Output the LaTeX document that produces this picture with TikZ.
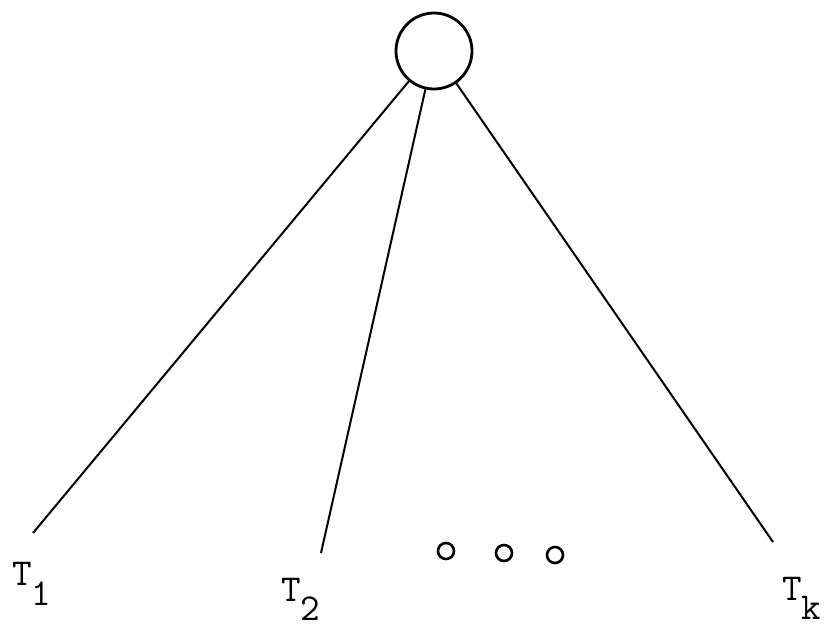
\documentclass[tikz,border=0pt]{standalone}
\usepackage{fontspec}
\setmonofont{Latin Modern Mono}
\tikzset{lblfont/.style={font=\ttfamily\fontsize{38}{42}\selectfont}}
\newcommand{\lowsub}[2]{\raisebox{-#1}[\height][0pt]{#2}}
\begin{document}
\begin{tikzpicture}[x=1pt,y=-1pt,
  edge/.style={line width=2pt},
  rootnode/.style={circle,draw,line width=2.8pt,minimum size=76pt,inner sep=0pt},
  dotnode/.style={circle,draw,line width=2.6pt,minimum size=16pt,inner sep=0pt},
  lbl/.style={anchor=base west,inner sep=0pt,lblfont}]
\useasboundingbox (0,0) rectangle (825,625);
\node[rootnode] (root) at (434,51) {};
\coordinate (e1) at (33,533);
\coordinate (e2) at (321,553);
\coordinate (e3) at (773,542);
\draw[edge] (root) -- (e1);
\draw[edge] (root) -- (e2);
\draw[edge] (root) -- (e3);
\node[lbl] (t1) at (12,585) {T\lowsub{20pt}{1}};
\node[lbl] (t2) at (281,601) {T\lowsub{19pt}{2}};
\node[lbl] (tk) at (782,600) {T\lowsub{19pt}{k}};
\node[dotnode] (d1) at (446,551) {};
\node[dotnode] (d2) at (504,553) {};
\node[dotnode] (d3) at (555,555) {};
\end{tikzpicture}
\end{document}
